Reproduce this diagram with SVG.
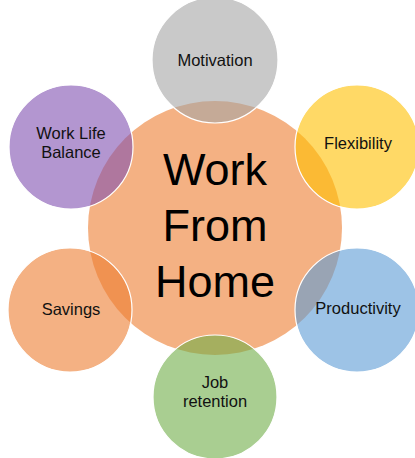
<svg xmlns="http://www.w3.org/2000/svg" width="415" height="458" viewBox="0 0 415 458">
<style>
.outer{stroke:#ffffff;stroke-width:1.2;fill-opacity:0.6}
.lbl{font-family:"Liberation Sans",Arial,sans-serif;font-size:16.5px;fill:#111;text-anchor:middle}
.big{font-family:"Liberation Sans",Arial,sans-serif;font-size:45px;fill:#000;text-anchor:middle}
</style>
<rect width="415" height="458" fill="#ffffff"/>
<g id="center">
<circle cx="215" cy="228" r="127" fill="#F4B183"/>
<text class="big" x="215" y="185">Work</text>
<text class="big" x="215" y="241">From</text>
<text class="big" x="215" y="297">Home</text>
</g>
<g id="motivation">
<circle class="outer" cx="215" cy="60" r="63" fill="#A5A5A5"/>
<text class="lbl" x="215" y="66">Motivation</text>
</g>
<g id="flexibility">
<circle class="outer" cx="357" cy="147" r="62" fill="#FFC000"/>
<text class="lbl" x="358" y="149">Flexibility</text>
</g>
<g id="productivity">
<circle class="outer" cx="357" cy="310" r="62" fill="#5B9BD5"/>
<text class="lbl" x="358" y="314">Productivity</text>
</g>
<g id="job-retention">
<circle class="outer" cx="215" cy="397" r="62" fill="#70AD47"/>
<text class="lbl" x="215" y="388">Job</text>
<text class="lbl" x="215" y="407">retention</text>
</g>
<g id="savings">
<circle class="outer" cx="70" cy="310" r="62" fill="#ED7D31"/>
<text class="lbl" x="71" y="315">Savings</text>
</g>
<g id="work-life-balance">
<circle class="outer" cx="71" cy="147" r="62" fill="#8050B0"/>
<text class="lbl" x="71" y="139">Work Life</text>
<text class="lbl" x="71" y="158">Balance</text>
</g>
<g id="connectors"/>
</svg>
